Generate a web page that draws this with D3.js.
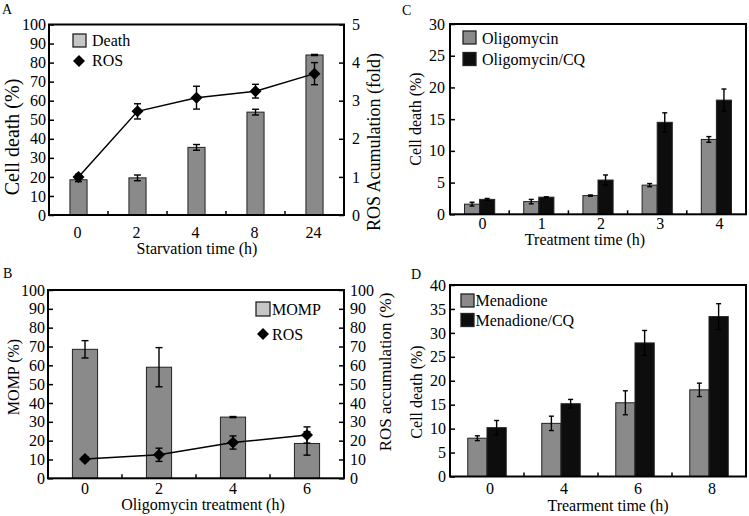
<!DOCTYPE html>
<html><head><meta charset="utf-8">
<script src="https://cdn.jsdelivr.net/npm/d3@7"></script>
<style>
body{margin:0;background:#fff}
svg{display:block}
text{font-family:"Liberation Serif","Times New Roman",serif;fill:#000}
</style>
</head><body>
<svg id="c" width="749" height="516"></svg>
<script>
// ---------- Data ----------
// Panel A
const aCats = ["0", "2", "4", "8", "24"];
const aDeath = [18.5, 19.5, 35.5, 54, 84];
const aDeathErr = [1.0, 1.5, 1.5, 1.5, 0.3];
const aROS = [1.0, 2.72, 3.08, 3.25, 3.71];
const aROSErr = [0.07, 0.2, 0.3, 0.18, 0.29];
const aLeftTicks = [0, 10, 20, 30, 40, 50, 60, 70, 80, 90, 100];
const aRightTicks = [0, 1, 2, 3, 4, 5];
// Panel B
const bCats = ["0", "2", "4", "6"];
const bMOMP = [68.5, 59, 32.5, 18.5];
const bMOMPErr = [4.6, 10.4, 0.3, 6.2];
const bROS = [10.3, 12.5, 19, 23];
const bROSErr = [1.0, 3.5, 3.5, 4.3];
const bLeftTicks = [0, 10, 20, 30, 40, 50, 60, 70, 80, 90, 100];
const bRightTicks = [0, 10, 20, 30, 40, 50, 60, 70, 80, 90, 100];
// Panel C
const cCats = ["0", "1", "2", "3", "4"];
const cOligo = [1.6, 2.0, 2.95, 4.6, 11.8];
const cOligoErr = [0.3, 0.35, 0.1, 0.25, 0.45];
const cOligoCQ = [2.35, 2.7, 5.4, 14.5, 18.0];
const cOligoCQErr = [0.15, 0.05, 0.8, 1.5, 1.75];
const cTicks = [0, 5, 10, 15, 20, 25, 30];
// Panel D
const dCats = ["0", "4", "6", "8"];
const dMena = [8.0, 11.1, 15.4, 18.1];
const dMenaErr = [0.5, 1.5, 2.5, 1.4];
const dMenaCQ = [10.2, 15.2, 27.9, 33.4];
const dMenaCQErr = [1.5, 0.9, 2.6, 2.7];
const dTicks = [0, 5, 10, 15, 20, 25, 30, 35, 40];

// ---------- Styles ----------
const GRAY = "#8a8a8a", LGRAY = "#c6c6c6", BLACK = "#0d0d0d", FS = 16;

const svg = d3.select("#c");

function frame(x0, x1, y0, y1) {
  svg.append("rect").attr("x", x0).attr("y", y0)
    .attr("width", x1 - x0).attr("height", y1 - y0)
    .attr("fill", "none").attr("stroke", "#000").attr("stroke-width", 2);
}
function styleAxis(g) {
  g.select(".domain").remove();
  g.selectAll("line").attr("stroke", "#000").attr("stroke-width", 1.5);
  g.selectAll("text").style("font-size", FS + "px")
    .attr("font-family", '"Liberation Serif","Times New Roman",serif').attr("fill", "#000");
}
function leftAxis(scale, x, ticks, pad, fmt) {
  svg.append("g").attr("transform", `translate(${x},0)`)
    .call(d3.axisLeft(scale).tickValues(ticks).tickSize(-5).tickPadding(pad).tickFormat(fmt || d3.format("d")))
    .call(styleAxis);
}
function rightAxis(scale, x, ticks, pad) {
  svg.append("g").attr("transform", `translate(${x},0)`)
    .call(d3.axisRight(scale).tickValues(ticks).tickSize(-5).tickPadding(pad).tickFormat(d3.format("d")))
    .call(styleAxis);
}
function xAxis(band, y, pad, dx) {
  svg.append("g").attr("transform", `translate(${dx || 0},${y})`)
    .call(d3.axisBottom(band).tickSize(0).tickPadding(pad))
    .call(styleAxis);
  // ticks at band boundaries, pointing up
  const r = band.range();
  const n = band.domain().length;
  for (let i = 1; i < n; i++) {
    const xx = r[0] + i * band.step();
    svg.append("line").attr("x1", xx).attr("x2", xx).attr("y1", y).attr("y2", y - 4)
      .attr("stroke", "#000").attr("stroke-width", 1.5);
  }
}
function bars(cats, vals, band, y, off, w, fill) {
  svg.append("g").selectAll("rect").data(vals).join("rect")
    .attr("x", (d, i) => band(cats[i]) + band.bandwidth() / 2 + off)
    .attr("width", w)
    .attr("y", d => y(d))
    .attr("height", d => y(0) - y(d))
    .attr("fill", fill).attr("stroke", "#222").attr("stroke-width", 1);
}
function errs(cats, vals, e, band, y, off, cap) {
  const g = svg.append("g").attr("stroke", "#000").attr("stroke-width", 1.4);
  vals.forEach((v, i) => {
    const cx = band(cats[i]) + band.bandwidth() / 2 + off;
    g.append("line").attr("x1", cx).attr("x2", cx).attr("y1", y(v - e[i])).attr("y2", y(v + e[i]));
    g.append("line").attr("x1", cx - cap / 2).attr("x2", cx + cap / 2).attr("y1", y(v + e[i])).attr("y2", y(v + e[i]));
    g.append("line").attr("x1", cx - cap / 2).attr("x2", cx + cap / 2).attr("y1", y(v - e[i])).attr("y2", y(v - e[i]));
  });
}
function lineDiamonds(cats, vals, band, y) {
  const pts = vals.map((v, i) => [band(cats[i]) + band.bandwidth() / 2, y(v)]);
  svg.append("path").attr("d", d3.line()(pts)).attr("fill", "none")
    .attr("stroke", "#000").attr("stroke-width", 1.5);
  const sym = d3.symbol(d3.symbolSquare, 72);
  svg.append("g").selectAll("path").data(pts).join("path")
    .attr("d", sym).attr("transform", d => `translate(${d[0]},${d[1]}) rotate(45)`)
    .attr("fill", "#000");
}
function text(x, y, s, opts = {}) {
  return svg.append("text").attr("x", x).attr("y", y).text(s)
    .style("font-size", (opts.size || FS) + "px")
    .attr("text-anchor", opts.anchor || "start");
}
function vtext(x, y, s, size) {
  svg.append("text").attr("transform", `translate(${x},${y}) rotate(-90)`)
    .attr("text-anchor", "middle").style("font-size", (size || FS) + "px").text(s);
}
function legendDiamond(cx, cy) {
  svg.append("path").attr("d", d3.symbol(d3.symbolSquare, 72))
    .attr("transform", `translate(${cx},${cy}) rotate(45)`).attr("fill", "#000");
}
function legendSquare(x, y, s, fill) {
  svg.append("rect").attr("x", x).attr("y", y).attr("width", s).attr("height", s)
    .attr("fill", fill).attr("stroke", "#222").attr("stroke-width", 1.3);
}

// ---------- Panel A ----------
{
  const x0 = 49, x1 = 344, y0 = 24.5, y1 = 215;
  const x = d3.scaleBand().domain(aCats).range([x0, x1]);
  const y = d3.scaleLinear().domain([0, 100]).range([y1, y0]);
  const y2 = d3.scaleLinear().domain([0, 5]).range([y1, y0]);
  const w = x.bandwidth() * 0.29;
  bars(aCats, aDeath, x, y, -w / 2, w, GRAY);
  errs(aCats, aDeath, aDeathErr, x, y, 0, 7);
  errs(aCats, aROS, aROSErr, x, y2, 0, 7);
  lineDiamonds(aCats, aROS, x, y2);
  leftAxis(y, x0, aLeftTicks, 3);
  rightAxis(y2, x1, aRightTicks, 8);
  xAxis(x, y1, 11.5, -1);
  frame(x0, x1, y0, y1);
  legendSquare(73, 34, 13, LGRAY);
  text(92, 46, "Death");
  legendDiamond(79, 61);
  text(92, 66, "ROS");
  text(197, 254, "Starvation time (h)", { anchor: "middle" });
  vtext(19, 137, "Cell death (%)", 20);
  vtext(380, 142, "ROS Acumulation (fold)", 18);
  text(2, 14, "A", { size: 14 });
}

// ---------- Panel B ----------
{
  const x0 = 48, x1 = 344, y0 = 290, y1 = 478.3;
  const x = d3.scaleBand().domain(bCats).range([x0, x1]);
  const y = d3.scaleLinear().domain([0, 100]).range([y1, y0]);
  const y2 = d3.scaleLinear().domain([0, 100]).range([y1, y0]);
  const w = x.bandwidth() * 0.34;
  bars(bCats, bMOMP, x, y, -w / 2, w, GRAY);
  errs(bCats, bMOMP, bMOMPErr, x, y, 0, 7);
  errs(bCats, bROS, bROSErr, x, y2, 0, 7);
  lineDiamonds(bCats, bROS, x, y2);
  leftAxis(y, x0, bLeftTicks, 3);
  rightAxis(y2, x1, bRightTicks, 6);
  xAxis(x, y1, 4.5, 0);
  frame(x0, x1, y0, y1);
  legendSquare(256, 302, 14, LGRAY);
  text(272, 315, "MOMP");
  legendDiamond(263, 334);
  text(272, 340, "ROS");
  text(203, 510, "Oligomycin treatment (h)", { anchor: "middle" });
  vtext(19, 377, "MOMP (%)");
  vtext(391, 372, "ROS accumulation (%)", 17);
  text(3, 278, "B", { size: 14 });
}

// ---------- Panel C ----------
{
  const x0 = 450, x1 = 746, y0 = 24, y1 = 214.3;
  const x = d3.scaleBand().domain(cCats).range([x0, x1]);
  const y = d3.scaleLinear().domain([0, 30]).range([y1, y0]);
  const w = x.bandwidth() * 0.255;
  bars(cCats, cOligo, x, y, -w, w, GRAY);
  bars(cCats, cOligoCQ, x, y, 0, w, BLACK);
  errs(cCats, cOligo, cOligoErr, x, y, -w / 2, 5);
  errs(cCats, cOligoCQ, cOligoCQErr, x, y, w / 2, 5);
  leftAxis(y, x0, cTicks, 5);
  xAxis(x, y1, 3.5, 3);
  frame(x0, x1, y0, y1);
  legendSquare(463, 31, 13, GRAY);
  text(482, 44, "Oligomycin");
  legendSquare(463, 52.5, 13, BLACK);
  text(482, 65, "Oligomycin/CQ");
  text(585, 245, "Treatment time (h)", { anchor: "middle" });
  vtext(421, 119, "Cell death (%)");
  text(402, 15, "C", { size: 14 });
}

// ---------- Panel D ----------
{
  const x0 = 450, x1 = 746, y0 = 285, y1 = 476.5;
  const x = d3.scaleBand().domain(dCats).range([x0, x1]);
  const y = d3.scaleLinear().domain([0, 40]).range([y1, y0]);
  const w = x.bandwidth() * 0.26;
  bars(dCats, dMena, x, y, -w, w, GRAY);
  bars(dCats, dMenaCQ, x, y, 0, w, BLACK);
  errs(dCats, dMena, dMenaErr, x, y, -w / 2, 5);
  errs(dCats, dMenaCQ, dMenaCQErr, x, y, w / 2, 5);
  leftAxis(y, x0, dTicks, 4);
  xAxis(x, y1, 6, 3);
  frame(x0, x1, y0, y1);
  legendSquare(461, 294, 13, GRAY);
  text(475.5, 306, "Menadione");
  legendSquare(461, 313.5, 13, BLACK);
  text(475.5, 326, "Menadione/CQ");
  text(608, 511, "Trearment time (h)", { anchor: "middle" });
  vtext(422, 392, "Cell death (%)");
  text(411, 279, "D", { size: 14 });
}
</script>
</body></html>
